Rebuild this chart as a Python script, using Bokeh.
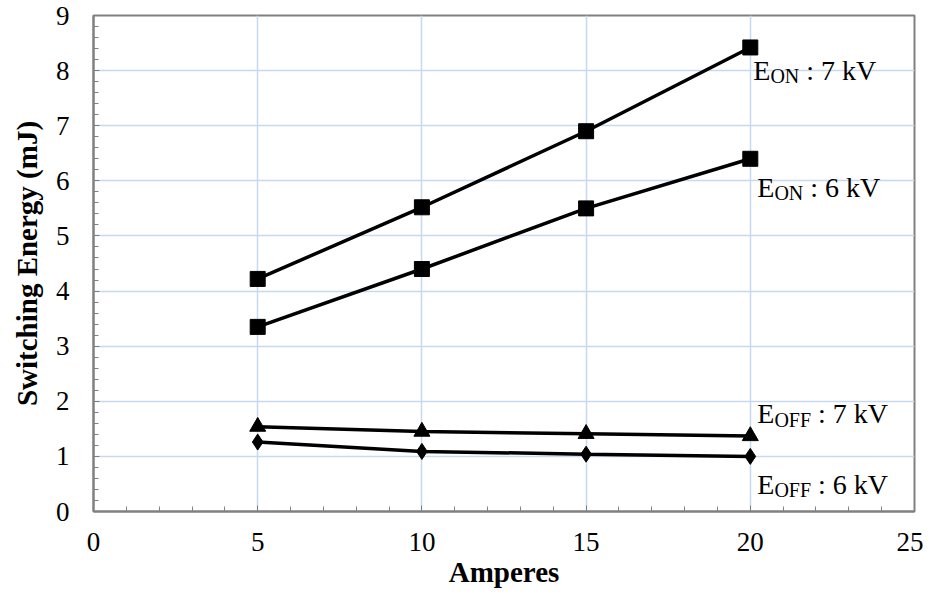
from bokeh.plotting import figure
from bokeh.models import Range1d, SingleIntervalTicker, Label
from bokeh.embed import file_html
from bokeh.resources import INLINE

amps = [5, 10, 15, 20]
eon_7kv = [4.22, 5.52, 6.90, 8.42]
eon_6kv = [3.35, 4.40, 5.50, 6.40]
eoff_7kv = [1.54, 1.45, 1.41, 1.37]
eoff_6kv = [1.26, 1.09, 1.04, 1.00]

FONT = "Liberation Serif"
GRID = "#c6d9f0"
FRAME = "#808080"

p = figure(width=923, height=590, output_backend="svg", toolbar_location=None,
           x_range=Range1d(0, 25), y_range=Range1d(0, 9),
           min_border_left=93, min_border_right=9, min_border_top=15, min_border_bottom=76)
p.background_fill_color = "white"
p.border_fill_color = "white"
p.outline_line_color = FRAME
p.outline_line_width = 2

p.xaxis.ticker = SingleIntervalTicker(interval=5, num_minor_ticks=5)
p.yaxis.ticker = SingleIntervalTicker(interval=1, num_minor_ticks=5)

for ax in (p.xaxis, p.yaxis):
    ax.axis_line_color = FRAME
    ax.axis_line_width = 2
    ax.major_tick_line_color = FRAME
    ax.minor_tick_line_color = FRAME
    ax.major_tick_in = 6
    ax.major_tick_out = 0
    ax.minor_tick_in = 5
    ax.minor_tick_out = 0
    ax.major_label_text_font = FONT
    ax.major_label_text_font_size = "27px"
    ax.major_label_text_color = "black"
    ax.axis_label_text_font = FONT
    ax.axis_label_text_font_size = "29px"
    ax.axis_label_text_font_style = "bold"
    ax.axis_label_text_color = "black"

p.xaxis.axis_label = "Amperes"
p.yaxis.axis_label = "Switching Energy (mJ)"
p.xaxis.major_label_standoff = 21
p.yaxis.major_label_standoff = 24
p.xaxis.axis_label_standoff = 2
p.yaxis.axis_label_standoff = 10

p.xgrid.grid_line_color = GRID
p.ygrid.grid_line_color = GRID
p.xgrid.grid_line_width = 1.5
p.ygrid.grid_line_width = 1.5

# series
p.line(amps, eon_7kv, line_color="black", line_width=3.5)
p.scatter(amps, eon_7kv, marker="square", size=15, color="black")
p.line(amps, eon_6kv, line_color="black", line_width=3.5)
p.scatter(amps, eon_6kv, marker="square", size=15, color="black")
p.line(amps, eoff_7kv, line_color="black", line_width=3.5)
p.scatter(amps, eoff_7kv, marker="triangle", size=16, color="black")
p.line(amps, eoff_6kv, line_color="black", line_width=3.5)
p.scatter(amps, eoff_6kv, marker="diamond", size=16, color="black")

# annotations: E with subscript
MAIN = 28
SUB = 20
labels = [
    ("ON", ": 7 kV", 20, 8.01, 3),
    ("ON", ": 6 kV", 20, 5.88, 7),
    ("OFF", ": 7 kV", 20, 1.77, 7),
    ("OFF", ": 6 kV", 20, 0.49, 7),
]
for sub, rest, lx, ly, xo in labels:
    e_w = 0.611 * MAIN
    sub_w = (1.444 if sub == "ON" else 1.834) * SUB
    gap = 0.25 * MAIN
    p.add_layout(Label(x=lx, y=ly, x_offset=xo, text="E", text_font=FONT,
                       text_font_size=f"{MAIN}px", text_color="black",
                       text_baseline="alphabetic"))
    p.add_layout(Label(x=lx, y=ly, x_offset=xo + e_w, y_offset=-6, text=sub,
                       text_font=FONT, text_font_size=f"{SUB}px", text_color="black",
                       text_baseline="alphabetic"))
    p.add_layout(Label(x=lx, y=ly, x_offset=xo + e_w + sub_w + gap, text=rest,
                       text_font=FONT, text_font_size=f"{MAIN}px", text_color="black",
                       text_baseline="alphabetic"))

open("out.html", "w").write(file_html(p, INLINE))
